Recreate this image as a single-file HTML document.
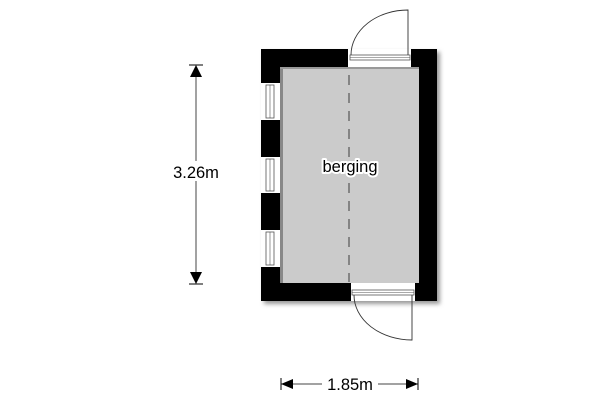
<!DOCTYPE html>
<html><head><style>body{margin:0;background:#fff}svg{display:block}</style></head><body>
<svg width="600" height="400" viewBox="0 0 600 400" xmlns="http://www.w3.org/2000/svg" font-family="Liberation Sans, sans-serif">
<defs><filter id="sh" x="-10%" y="-10%" width="130%" height="130%"><feGaussianBlur stdDeviation="2"/></filter></defs>
<rect x="264" y="52" width="176" height="252" fill="#999" filter="url(#sh)"/>
<rect x="261" y="49" width="176" height="252" fill="#000"/>
<rect x="280" y="67" width="139" height="216" fill="#cbcbcb"/>
<rect x="280" y="67" width="3" height="216" fill="#888"/>
<rect x="280" y="67" width="139" height="2" fill="#999"/>
<rect x="348" y="49" width="63" height="18" fill="#fff"/>
<rect x="350" y="55" width="60" height="5" fill="none" stroke="#555" stroke-width="0.8"/>
<line x1="350" y1="57.5" x2="410" y2="57.5" stroke="#555" stroke-width="0.6"/>
<path d="M351 55 A57 45 0 0 1 408 10 L408 55" fill="none" stroke="#333" stroke-width="0.9"/>
<rect x="351" y="283" width="64" height="18" fill="#fff"/>
<rect x="352" y="290" width="62" height="5" fill="none" stroke="#555" stroke-width="0.8"/>
<line x1="352" y1="292.5" x2="414" y2="292.5" stroke="#555" stroke-width="0.6"/>
<path d="M354 295 A58 45 0 0 0 412 340 L412 295" fill="none" stroke="#333" stroke-width="0.9"/>
<g fill="#fff" stroke="#555" stroke-width="0.8">
<rect x="261" y="83" width="19" height="37" stroke="none"/>
<rect x="266" y="85" width="8" height="33"/>
<rect x="261" y="157" width="19" height="36" stroke="none"/>
<rect x="266" y="159" width="8" height="32"/>
<rect x="261" y="230" width="19" height="37" stroke="none"/>
<rect x="266" y="232" width="8" height="33"/>
</g>
<g stroke="#555" stroke-width="0.6">
<line x1="270" y1="85" x2="270" y2="118"/><line x1="270" y1="159" x2="270" y2="191"/><line x1="270" y1="232" x2="270" y2="265"/>
</g>
<line x1="349" y1="75" x2="349" y2="282" stroke="#555" stroke-width="1.2" stroke-dasharray="10,8"/>
<text x="350" y="172" font-size="16.5" text-anchor="middle" stroke="#fff" stroke-width="4" stroke-linejoin="round" fill="#fff">berging</text>
<text x="350" y="172" font-size="16.5" text-anchor="middle" fill="#000">berging</text>
<line x1="196" y1="66" x2="196" y2="283" stroke="#444" stroke-width="1"/>
<line x1="189" y1="65" x2="203" y2="65" stroke="#000" stroke-width="1"/>
<line x1="189" y1="284" x2="203" y2="284" stroke="#000" stroke-width="1"/>
<polygon points="190,77 202,77 196,65" fill="#000"/>
<polygon points="190,272 202,272 196,284" fill="#000"/>
<rect x="170" y="161" width="52" height="20" fill="#fff"/>
<text x="196" y="178" font-size="16.5" text-anchor="middle">3.26m</text>
<line x1="281" y1="384" x2="418" y2="384" stroke="#444" stroke-width="1"/>
<line x1="281" y1="378" x2="281" y2="390" stroke="#000"/>
<line x1="418" y1="378" x2="418" y2="390" stroke="#000"/>
<polygon points="281,384 293,379 293,389" fill="#000"/>
<polygon points="418,384 406,379 406,389" fill="#000"/>
<rect x="322" y="374" width="56" height="20" fill="#fff"/>
<text x="350" y="390" font-size="16.5" text-anchor="middle">1.85m</text>
</svg>
</body></html>
